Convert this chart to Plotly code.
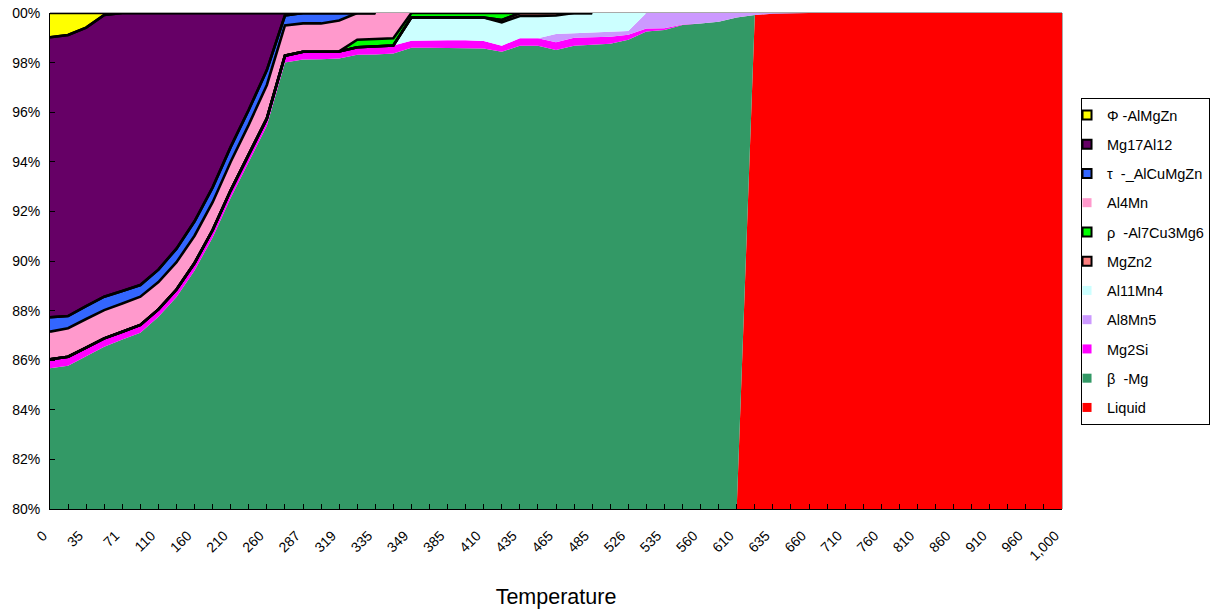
import numpy as np
import plotly.graph_objects as go

# ---------------- data (phase amounts, % of total) ----------------
temps = ["0", "17", "35", "53", "71", "90", "110", "135", "160", "185", "210", "235", "260", "273",
         "287", "303", "319", "327", "335", "342", "349", "367", "385", "397", "410", "422", "435",
         "450", "465", "475", "485", "505", "526", "530", "535", "547", "560", "585", "610", "622",
         "635", "647", "660", "685", "710", "735", "760", "785", "810", "835", "860", "885", "910",
         "935", "960", "980", "1000"]

tick_temps = ["0", "35", "71", "110", "160", "210", "260", "287", "319", "335", "349", "385", "410",
              "435", "465", "485", "526", "535", "560", "610", "635", "660", "710", "760", "810",
              "860", "910", "960", "1000"]
tick_labels = ["0", "35", "71", "110", "160", "210", "260", "287", "319", "335", "349", "385", "410",
               "435", "465", "485", "526", "535", "560", "610", "635", "660", "710", "760", "810",
               "860", "910", "960", "1,000"]

liquid = [0] * 38 + [80, 99.92, 99.97] + [100] * 16
beta_mg = [85.68, 85.78, 86.16, 86.54, 86.83, 87.11, 87.75, 88.55, 89.62, 90.95, 92.55, 94.0, 95.45,
           98.0, 98.12, 98.14, 98.17, 98.32, 98.33, 98.37, 98.6, 98.6, 98.6, 98.6, 98.57, 98.44, 98.68,
           98.68, 98.51, 98.68, 98.72, 98.76, 98.92, 99.25, 99.31, 99.52, 99.58, 99.65, 19.82, 0, 0] + [0] * 16
mg2si = [0.36, 0.36, 0.35, 0.34, 0.32, 0.31, 0.3, 0.3, 0.3, 0.3, 0.3, 0.3, 0.3, 0.28, 0.32, 0.3, 0.28,
         0.3, 0.31, 0.32, 0.28, 0.3, 0.3, 0.3, 0.3, 0.24, 0.3, 0.3, 0.31, 0.32, 0.3, 0.28, 0.2, 0.12,
         0.08, 0.02, 0, 0, 0, 0, 0] + [0] * 16
al8mn5 = [0] * 28 + [0.33, 0.18, 0.18, 0.18, 0.15, 0.63, 0.61, 0.46, 0.42, 0.35, 0.18, 0.08, 0.03] + [0] * 16
al11mn4 = [0] * 20 + [0.95, 0.93, 0.94, 0.94, 0.95, 0.94, 0.9, 0.9, 0.75, 0.82, 0.8, 0.78, 0.73] + [0] * 24
mgzn2 = [0] * 25 + [0.1, 0.12, 0.12, 0.1, 0, 0] + [None] * 26
rho = [0] * 17 + [0.3, 0.31, 0.29, 0.17, 0.17, 0.16, 0.16, 0.18, 0.28, 0, 0, 0, 0, 0] + [None] * 26
al4mn = [1.11, 1.15, 1.15, 1.14, 1.14, 1.14, 1.1, 1.1, 1.1, 1.12, 1.15, 1.2, 1.35, 1.22, 1.14, 1.14,
         1.25, 1.08, 1.05, 1.02] + [0] * 37
tau = [0.58, 0.49, 0.52, 0.54, 0.5, 0.47, 0.5, 0.55, 0.58, 0.6, 0.6, 0.6, 0.6, 0.4, 0.42, 0.42, 0.3,
       0, 0] + [None] * 38
mg17al12 = [11.29, 11.33, 11.23, 11.36, 11.21, 10.97, 10.35, 9.5, 8.4, 7.03, 5.4, 3.9, 2.3, 0.1,
            0, 0, 0, 0, 0] + [None] * 38
phi = [0.98, 0.89, 0.59, 0.08] + [0] * 15 + [None] * 38

# stacking order: bottom -> top
series = [
    ("Liquid", liquid, "#FF0000", False),
    ("\u03b2\u00a0 -Mg", beta_mg, "#339966", False),
    ("Mg2Si", mg2si, "#FF00FF", False),
    ("Al8Mn5", al8mn5, "#CC99FF", False),
    ("Al11Mn4", al11mn4, "#CCFFFF", False),
    ("MgZn2", mgzn2, "#FF8080", True),
    ("\u03c1\u00a0 -Al7Cu3Mg6", rho, "#00FF00", True),
    ("Al4Mn", al4mn, "#FF99CC", False),
    ("\u03c4\u00a0 -_AlCuMgZn", tau, "#3366FF", True),
    ("Mg17Al12", mg17al12, "#660066", True),
    ("\u03a6 -AlMgZn", phi, "#FFFF00", True),
]

fig = go.Figure()

# stacked 100% areas
for k, (name, vals, color, border) in enumerate(series):
    kw = dict(groupnorm="percent") if k == 0 else {}
    fig.add_trace(go.Scatter(
        x=temps, y=vals, name=name, mode="lines", stackgroup="one",
        line=dict(width=0, color=color), fillcolor=color,
        showlegend=False, hoverinfo="skip", **kw))

# black borders of the outlined series (only where the series has data)
arr = np.array([[np.nan if v is None else v for v in s[1]] for s in series], dtype=float)
filled = np.nan_to_num(arr)
pct = filled / filled.sum(axis=0) * 100.0
cum = np.cumsum(pct, axis=0)
for k, (name, vals, color, border) in enumerate(series):
    if not border:
        continue
    mask = np.isnan(arr[k])
    top = np.where(mask, np.nan, cum[k])
    bot = np.where(mask, np.nan, cum[k - 1])
    for yy in (bot, top):
        fig.add_trace(go.Scatter(
            x=temps, y=[None if np.isnan(v) else float(v) for v in yy], mode="lines",
            line=dict(color="black", width=2.6), showlegend=False, hoverinfo="skip",
            cliponaxis=False))

# legend entries (square swatches), top -> bottom
for name, vals, color, border in reversed(series):
    fig.add_trace(go.Scatter(
        x=[None], y=[None], mode="markers", name=name, legendgroup=name,
        marker=dict(symbol="square", size=9, color=color,
                    line=dict(color="black", width=2 if border else 0))))

font_family = "Arial, Liberation Sans, sans-serif"
y_ticks = [80, 82, 84, 86, 88, 90, 92, 94, 96, 98, 100]
y_text = ["80%", "82%", "84%", "86%", "88%", "90%", "92%", "94%", "96%", "98%", "00%"]

fig.update_layout(
    width=1210, height=609,
    margin=dict(l=50, r=148, t=13, b=100, autoexpand=False),
    paper_bgcolor="white", plot_bgcolor="white",
    font=dict(family=font_family, color="black", size=14),
    legend=dict(
        x=1.0188, xanchor="left", y=0.8286, yanchor="top",
        bordercolor="black", borderwidth=1, bgcolor="white",
        font=dict(size=14.5, family=font_family, color="black"),
        tracegroupgap=7.4, indentation=-15, traceorder="grouped",
    ),
    xaxis=dict(
        type="category", categoryorder="array", categoryarray=temps,
        range=[0, len(temps) - 1],
        tickmode="array", tickvals=temps,
        ticktext=[tick_labels[tick_temps.index(t)] if t in tick_temps else "" for t in temps],
        tickangle=-45, tickfont=dict(size=14),
        ticks="inside", ticklen=5, tickcolor="black", tickwidth=1,
        ticklabelstandoff=12, ticklabelshift=-7,
        showline=True, linecolor="black", linewidth=1,
        showgrid=False, zeroline=False, automargin=False,
        title=dict(text="Temperature", font=dict(size=21.5), standoff=28),
    ),
    yaxis=dict(
        range=[80, 100], tickmode="array", tickvals=y_ticks, ticktext=y_text,
        tickfont=dict(size=14),
        ticks="inside", ticklen=5, tickcolor="black", tickwidth=1,
        showline=True, linecolor="black", linewidth=1,
        showgrid=False, zeroline=False, automargin=False, ticklabelstandoff=6,
    ),
    shapes=[
        dict(type="line", xref="paper", yref="paper", x0=0, x1=1, y0=1, y1=1,
             line=dict(color="#8c8c8c", width=1.5), layer="below"),
        dict(type="line", xref="paper", yref="paper", x0=1, x1=1, y0=0, y1=1,
             line=dict(color="#8c8c8c", width=1.5), layer="below"),
    ],
)

fig.write_html("out.html", config={"displayModeBar": False},
               post_script="document.body.style.margin='0';document.body.style.overflow='hidden';")
